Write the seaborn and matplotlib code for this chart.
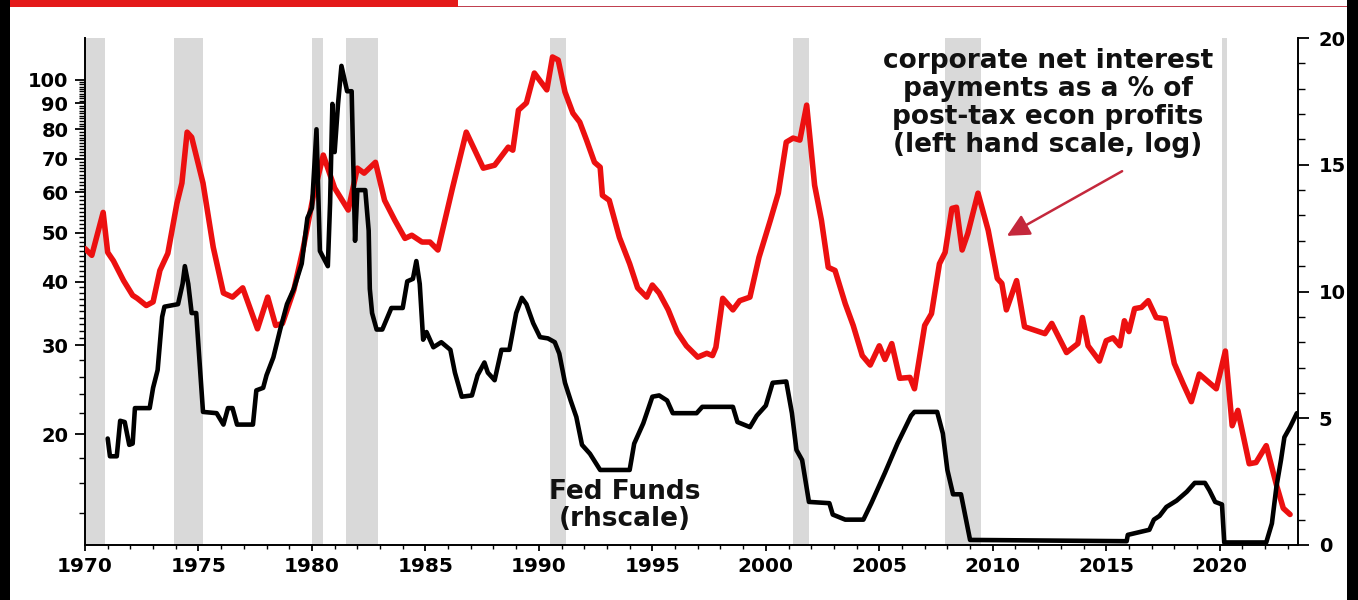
import matplotlib
matplotlib.use("Agg")
import matplotlib.pyplot as plt
import matplotlib.ticker as mticker
from matplotlib.patches import Rectangle
import seaborn as sns

# corporate net interest payments as % of post-tax economic profits (left, log)
red_years = [1970.0, 1970.3, 1970.8, 1971.0, 1971.25, 1971.7, 1972.1, 1972.3, 1972.7, 1973.0,
             1973.3, 1973.65, 1974.05, 1974.27, 1974.5, 1974.7, 1975.2, 1975.65, 1976.1, 1976.5,
             1976.95, 1977.6, 1978.05, 1978.4, 1978.7, 1979.2, 1979.6, 1980.05, 1980.5, 1981.0,
             1981.6, 1982.0, 1982.3, 1982.8, 1983.2, 1983.65, 1984.1, 1984.4, 1984.85, 1985.2,
             1985.55, 1986.2, 1986.8, 1987.55, 1988.05, 1988.65, 1988.85, 1989.1, 1989.45, 1989.8,
             1990.35, 1990.6, 1990.85, 1991.15, 1991.5, 1991.8, 1992.1, 1992.45, 1992.7, 1992.8,
             1993.1, 1993.55, 1994.0, 1994.35, 1994.75, 1995.0, 1995.3, 1995.7, 1996.1, 1996.5,
             1997.0, 1997.4, 1997.65, 1997.8, 1998.1, 1998.55, 1998.85, 1999.3, 1999.7, 2000.2,
             2000.55, 2000.9, 2001.2, 2001.5, 2001.8, 2002.15, 2002.45, 2002.75, 2003.05, 2003.5,
             2003.85, 2004.25, 2004.6, 2005.0, 2005.25, 2005.55, 2005.9, 2006.35, 2006.55, 2007.0,
             2007.3, 2007.65, 2007.9, 2008.2, 2008.4, 2008.65, 2008.9, 2009.35, 2009.8, 2010.2,
             2010.4, 2010.6, 2011.05, 2011.4, 2011.85, 2012.3, 2012.6, 2013.25, 2013.75, 2013.95,
             2014.2, 2014.7, 2015.0, 2015.3, 2015.6, 2015.8, 2016.0, 2016.25, 2016.55, 2016.85,
             2017.2, 2017.6, 2018.0, 2018.4, 2018.75, 2019.1, 2019.45, 2019.85, 2020.25, 2020.55,
             2020.8, 2021.3, 2021.6, 2022.05, 2022.5, 2022.8, 2023.1]
red_vals = [46.5, 45.1, 54.8, 45.7, 44.0, 40.2, 37.6, 37.1, 35.9, 36.5,
            42.1, 45.5, 57.1, 62.6, 78.9, 77.1, 62.6, 46.8, 38.0, 37.3,
            38.9, 32.3, 37.3, 32.8, 33.1, 38.5, 46.2, 58.7, 71.1, 61.2,
            55.4, 67.0, 65.5, 68.8, 57.9, 52.9, 48.7, 49.4, 47.9, 47.9,
            46.2, 61.4, 78.9, 67.0, 67.9, 73.7, 72.7, 87.2, 90.1, 103.2,
            95.6, 111.0, 109.5, 94.7, 86.0, 82.6, 76.1, 68.8, 67.3, 59.2,
            57.9, 48.9, 43.4, 38.9, 37.3, 39.4, 38.0, 35.2, 31.8, 29.9,
            28.4, 28.9, 28.6, 29.7, 37.1, 35.2, 36.7, 37.3, 44.7, 52.9,
            59.8, 75.4, 76.8, 76.1, 89.2, 62.0, 52.9, 42.7, 42.1, 36.2,
            32.8, 28.6, 27.4, 29.9, 28.1, 30.2, 25.8, 25.9, 24.6, 32.8,
            34.6, 43.4, 45.7, 55.8, 56.1, 46.2, 49.8, 59.8, 50.5, 40.6,
            39.7, 35.2, 40.2, 32.6, 32.1, 31.6, 33.1, 29.0, 30.2, 34.0,
            29.9, 27.9, 30.6, 31.0, 29.9, 33.5, 31.9, 35.4, 35.6, 36.7,
            34.0, 33.8, 27.6, 25.1, 23.2, 26.3, 25.5, 24.6, 29.2, 20.8,
            22.3, 17.5, 17.6, 19.0, 15.9, 14.3, 13.9]

# Fed Funds rate (right scale)
ff_years = [1971.0, 1971.1, 1971.4, 1971.55, 1971.75, 1971.95, 1972.1, 1972.2, 1972.85, 1973.0,
            1973.2, 1973.4, 1973.5, 1974.1, 1974.3, 1974.4, 1974.55, 1974.7, 1974.9, 1975.05,
            1975.2, 1975.8, 1976.1, 1976.3, 1976.5, 1976.7, 1977.4, 1977.55, 1977.85, 1978.0,
            1978.3, 1978.6, 1978.9, 1979.2, 1979.55, 1979.8, 1980.0, 1980.2, 1980.35, 1980.7,
            1980.8, 1980.9, 1981.0, 1981.15, 1981.3, 1981.55, 1981.75, 1981.9, 1982.0, 1982.35,
            1982.5, 1982.55, 1982.65, 1982.85, 1983.1, 1983.5, 1984.0, 1984.2, 1984.45, 1984.6,
            1984.75, 1984.9, 1985.05, 1985.35, 1985.7, 1986.1, 1986.3, 1986.6, 1987.05, 1987.3,
            1987.6, 1987.75, 1988.05, 1988.35, 1988.7, 1989.0, 1989.25, 1989.45, 1989.75, 1990.05,
            1990.4, 1990.7, 1990.9, 1991.15, 1991.4, 1991.65, 1991.9, 1992.25, 1992.7, 1994.0,
            1994.2, 1994.6, 1995.0, 1995.3, 1995.65, 1995.9, 1996.95, 1997.2, 1998.55, 1998.75,
            1999.3, 1999.6, 2000.0, 2000.3, 2000.9, 2001.15, 2001.35, 2001.6, 2001.9, 2002.8,
            2002.95, 2003.5, 2004.3, 2004.65, 2005.25, 2005.8, 2006.4, 2006.55, 2007.55, 2007.8,
            2008.0, 2008.25, 2008.6, 2009.0, 2015.9, 2015.95, 2016.9, 2017.1, 2017.35, 2017.65,
            2018.1, 2018.55, 2018.9, 2019.35, 2019.55, 2019.8, 2020.1, 2020.2, 2022.05, 2022.3,
            2022.5, 2022.7, 2022.85, 2023.1, 2023.4]
ff_vals = [4.2, 3.5, 3.5, 4.9, 4.85, 3.95, 4.0, 5.4, 5.4, 6.2,
           6.9, 9.0, 9.4, 9.5, 10.3, 11.0, 10.3, 9.15, 9.15, 7.2,
           5.25, 5.2, 4.75, 5.4, 5.4, 4.75, 4.75, 6.1, 6.2, 6.7,
           7.4, 8.5, 9.5, 10.1, 11.1, 12.9, 13.3, 16.4, 11.6, 11.0,
           13.5, 17.4, 15.5, 17.4, 18.9, 17.9, 17.9, 12.0, 14.0, 14.0,
           12.4, 10.1, 9.15, 8.5, 8.5, 9.35, 9.35, 10.4, 10.5, 11.2,
           10.3, 8.1, 8.4, 7.8, 8.0, 7.7, 6.8, 5.85, 5.9, 6.7,
           7.2, 6.8, 6.5, 7.7, 7.7, 9.15, 9.75, 9.5, 8.75, 8.2,
           8.15, 8.0, 7.55, 6.4, 5.7, 5.05, 3.95, 3.6, 2.96, 2.96,
           4.0, 4.8, 5.85, 5.9, 5.7, 5.2, 5.2, 5.45, 5.45, 4.85,
           4.65, 5.1, 5.5, 6.4, 6.45, 5.2, 3.75, 3.35, 1.7, 1.65,
           1.2, 1.0, 1.0, 1.65, 2.85, 4.0, 5.1, 5.25, 5.25, 4.4,
           2.96, 2.0, 2.0, 0.2, 0.15, 0.4, 0.6, 1.0, 1.15, 1.5,
           1.75, 2.1, 2.45, 2.45, 2.15, 1.7, 1.6, 0.1, 0.1, 0.85,
           2.3, 3.35, 4.25, 4.65, 5.2]

recessions = [(1969.9, 1970.9), (1973.9, 1975.2), (1980.0, 1980.5), (1981.5, 1982.9),
              (1990.5, 1991.2), (2001.2, 2001.9), (2007.9, 2009.5), (2020.1, 2020.3)]

left_ticks = [20, 30, 40, 50, 60, 70, 80, 90, 100]
left_minor = [12, 14, 16, 18, 22, 24, 26, 28] + [v for v in range(31, 100) if v % 10 != 0]
right_ticks = [0, 5, 10, 15, 20]
year_ticks = list(range(1970, 2021, 5))

label_main = "corporate net interest\npayments as a % of\npost-tax econ profits\n(left hand scale, log)"
label_ff = "Fed Funds\n(rhscale)"

sns.set_theme(style="ticks")
plt.rcParams['font.family'] = ['DejaVu Sans']
plt.rcParams['font.weight'] = 'bold'

W, H = 1358, 600
fig = plt.figure(figsize=(W / 100, H / 100), dpi=100)
fig.patch.set_facecolor("white")
ax = fig.add_axes([85 / W, 55 / H, 1213 / W, 507 / H])
ax2 = ax.twinx()

for a, b in recessions:
    ax.axvspan(a, b, color="#d9d9d9", lw=0, zorder=0)

sns.lineplot(x=red_years, y=red_vals, ax=ax, color="#ec1010", linewidth=4.0,
             sort=False, estimator=None, zorder=3)
sns.lineplot(x=ff_years, y=ff_vals, ax=ax2, color="black", linewidth=3.3,
             sort=False, estimator=None, zorder=3)

# left axis (log)
ax.set_yscale("log")
ax.set_ylim(12.1, 121)
ax.yaxis.set_major_locator(mticker.FixedLocator(left_ticks))
ax.yaxis.set_major_formatter(mticker.FuncFormatter(lambda v, p: f"{v:g}"))
ax.yaxis.set_minor_locator(mticker.FixedLocator(left_minor))
ax.yaxis.set_minor_formatter(mticker.NullFormatter())

# right axis
ax2.set_ylim(0, 20)
ax2.yaxis.set_major_locator(mticker.FixedLocator(right_ticks))
ax2.yaxis.set_minor_locator(mticker.MultipleLocator(1))

# x axis
ax.set_xlim(1970, 2023.45)
ax.xaxis.set_major_locator(mticker.FixedLocator(year_ticks))
ax.xaxis.set_minor_locator(mticker.MultipleLocator(1))

for a in (ax, ax2):
    a.set_xlabel("")
    a.set_ylabel("")
    a.spines["top"].set_visible(False)
    for s in a.spines.values():
        s.set_linewidth(1.4)
        s.set_color("black")
ax.spines["right"].set_visible(False)
ax2.spines["left"].set_visible(False)
ax2.spines["bottom"].set_visible(False)

ax.tick_params(axis="y", which="major", length=7, width=1.3, pad=5, labelsize=14,
               color="black", labelcolor="black")
ax.tick_params(axis="y", which="minor", length=4, width=1.0, color="black")
ax.tick_params(axis="x", which="major", length=4, width=1.3, pad=5, labelsize=14.5,
               color="black", labelcolor="black")
ax.tick_params(axis="x", which="minor", length=3, width=1.0, color="black")
ax2.tick_params(axis="y", which="major", length=8, width=1.3, pad=7, labelsize=14,
                color="black", labelcolor="black")
ax2.tick_params(axis="y", which="minor", length=5, width=1.0, color="black")

ax.text(0.794, 0.871, label_main, transform=ax.transAxes, ha="center", va="center",
        fontsize=19, fontweight="bold", linespacing=1.1, color="#111111", zorder=5)
ax.text(0.445, 0.077, label_ff, transform=ax.transAxes, ha="center", va="center",
        fontsize=19, fontweight="bold", linespacing=1.05, color="#111111", zorder=5)
ax.annotate("", xy=(0.758, 0.607), xytext=(0.857, 0.740), xycoords="axes fraction",
            arrowprops=dict(arrowstyle="-|>", color="#c4283c", lw=1.8, mutation_scale=34))

# frame decorations of the original clipping
fig.add_artist(Rectangle((10 / W, 593 / H), 448 / W, 7 / H, transform=fig.transFigure,
                         color="#e41a1a", lw=0))
fig.add_artist(Rectangle((458 / W, 593 / H), 890 / W, 1.5 / H, transform=fig.transFigure,
                         color="#c04050", lw=0))
fig.add_artist(Rectangle((0, 0), 10 / W, 1, transform=fig.transFigure, color="black", lw=0))
fig.add_artist(Rectangle((1347 / W, 0), 11 / W, 1, transform=fig.transFigure, color="black", lw=0))

fig.savefig("out.png", dpi=100)
